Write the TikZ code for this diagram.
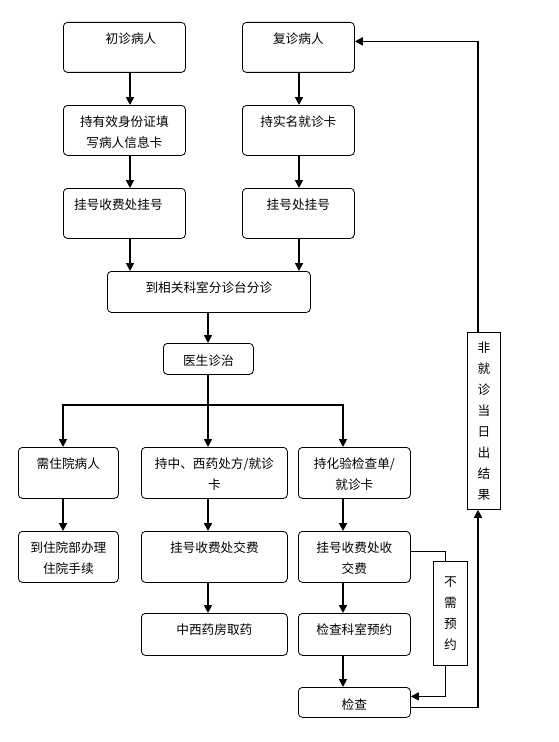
\documentclass[tikz,border=0pt]{standalone}
\usepackage{fontspec}
\newfontfamily\cjk{Noto Sans CJK SC}
\usetikzlibrary{arrows.meta}

\tikzset{
  box/.style={draw, line width=0.6pt, rounded corners=3pt, anchor=north west, inner sep=0pt},
  plainbox/.style={draw, line width=0.6pt, anchor=north west, inner sep=0pt,
    font=\cjk\fontsize{9.5}{15.75}\selectfont, align=center},
  txt/.style={anchor=north, inner sep=0pt, label distance=0pt, yshift=-8pt,
    font=\cjk\fontsize{9.5}{15.75}\selectfont, align=center},
  arr/.style={line width=1.3pt, -{Triangle[length=6pt,width=6pt]}},
  thinline/.style={line width=0.7pt},
  thinarr/.style={line width=0.7pt, -{Triangle[length=6pt,width=6pt]}}
}

\begin{document}
\begin{tikzpicture}[x=0.75pt, y=-0.75pt]
	\useasboundingbox (0,0) rectangle (558,742);
	\fill[white] (0,0) rectangle (558,742);

	% columns of the connectors
	\coordinate (xa) at (130,0);
	\coordinate (xb) at (299,0);
	\coordinate (xc) at (208,0);
	\coordinate (xl) at (63,0);
	\coordinate (xr) at (343,0);
	\coordinate (xn) at (445,0);
	\coordinate (xf) at (478,0);

	% first visit / return visit
	\node[box, minimum width=91.5pt, minimum height=37.5pt, label={[txt, xshift=5pt]north:初诊病人}] (cz) at (63,22) {};
	\node[box, minimum width=84pt, minimum height=37.5pt, label={[txt]north:复诊病人}] (fz) at (242,22) {};
	\node[box, minimum width=91.5pt, minimum height=37.5pt, label={[txt]north:持有效身份证填\\写病人信息卡}] (yx) at (63,105) {};
	\node[box, minimum width=84pt, minimum height=37.5pt, label={[txt]north:持实名就诊卡}] (sm) at (242,105) {};
	\node[box, minimum width=91.5pt, minimum height=37.5pt, label={[txt, xshift=-4.5pt]north:挂号收费处挂号}] (gh1) at (63,188) {};
	\node[box, minimum width=84pt, minimum height=37.5pt, label={[txt]north:挂号处挂号}] (gh2) at (242,188) {};

	\node[box, minimum width=152.25pt, minimum height=30.75pt, label={[txt]north:到相关科室分诊台分诊}] (fenzhen) at (107,271) {};
	\node[box, minimum width=67.5pt, minimum height=23.25pt, label={[txt, yshift=-1pt]north:医生诊治}] (yisheng) at (163,343) {};

	% three branches
	\node[box, minimum width=75pt, minimum height=38.25pt, label={[txt]north:需住院病人}] (zhuyuan) at (18,447) {};
	\node[box, minimum width=109.5pt, minimum height=38.25pt, label={[txt]north:持中、西药处方/就诊\\卡}] (yaofang) at (141,447) {};
	\node[box, minimum width=84pt, minimum height=38.25pt, label={[txt]north:持化验检查单/\\就诊卡}] (huayan) at (298,447) {};

	\node[box, minimum width=75pt, minimum height=38.25pt, label={[txt]north:到住院部办理\\住院手续}] (banli) at (18,531) {};
	\node[box, minimum width=109.5pt, minimum height=38.25pt, label={[txt]north:挂号收费处交费}] (jiaofei) at (141,531) {};
	\node[box, minimum width=84pt, minimum height=38.25pt, label={[txt]north:挂号收费处收\\交费}] (shoufei) at (298,531) {};

	\node[box, minimum width=109.5pt, minimum height=31.5pt, label={[txt]north:中西药房取药}] (quyao) at (141,613) {};
	\node[box, minimum width=84pt, minimum height=31.5pt, label={[txt]north:检查科室预约}] (yuyue) at (298,613) {};
	\node[box, minimum width=84pt, minimum height=22.5pt, label={[txt, yshift=-0.5pt]north:检查}] (jiancha) at (298,687) {};

	\node[plainbox, minimum width=25.5pt, minimum height=78pt] (buxu) at (433,561) {不\\需\\预\\约};
	\node[plainbox, minimum width=24.75pt, minimum height=132.75pt] (feijz) at (467,332) {非\\就\\诊\\当\\日\\出\\结\\果};

	% arrows
	\draw[arr] (cz.south -| xa) -- (yx.north -| xa);
	\draw[arr] (yx.south -| xa) -- (gh1.north -| xa);
	\draw[arr] (gh1.south -| xa) -- (fenzhen.north -| xa);
	\draw[arr] (fz.south -| xb) -- (sm.north -| xb);
	\draw[arr] (sm.south -| xb) -- (gh2.north -| xb);
	\draw[arr] (gh2.south -| xb) -- (fenzhen.north -| xb);
	\draw[arr] (fenzhen.south -| xc) -- (yisheng.north -| xc);

	\coordinate (br) at (208,405);
	\draw[line width=1.3pt] (yisheng.south -| xc) -- (br);
	\draw[arr] (br) -| (zhuyuan.north -| xl);
	\draw[arr] (br) -- (yaofang.north -| xc);
	\draw[arr] (br) -| (huayan.north -| xr);

	\draw[arr] (zhuyuan.south -| xl) -- (banli.north -| xl);
	\draw[arr] (yaofang.south -| xc) -- (jiaofei.north -| xc);
	\draw[arr] (jiaofei.south -| xc) -- (quyao.north -| xc);
	\draw[arr] (huayan.south -| xr) -- (shoufei.north -| xr);
	\draw[arr] (shoufei.south -| xr) -- (yuyue.north -| xr);
	\draw[arr] (yuyue.south -| xr) -- (jiancha.north -| xr);

	% no appointment needed
	\draw[thinline] ([yshift=-15pt]shoufei.north east) -| (buxu.north -| xn);
	\draw[thinarr] (buxu.south -| xn) |- ([yshift=4.5pt]jiancha.east);

	% results on another day
	\draw[arr] ([yshift=-3.75pt]jiancha.east) -| (feijz.south -| xf);
	\draw[arr] (feijz.north -| xf) |- ([yshift=4.5pt]fz.east);
\end{tikzpicture}
\end{document}
